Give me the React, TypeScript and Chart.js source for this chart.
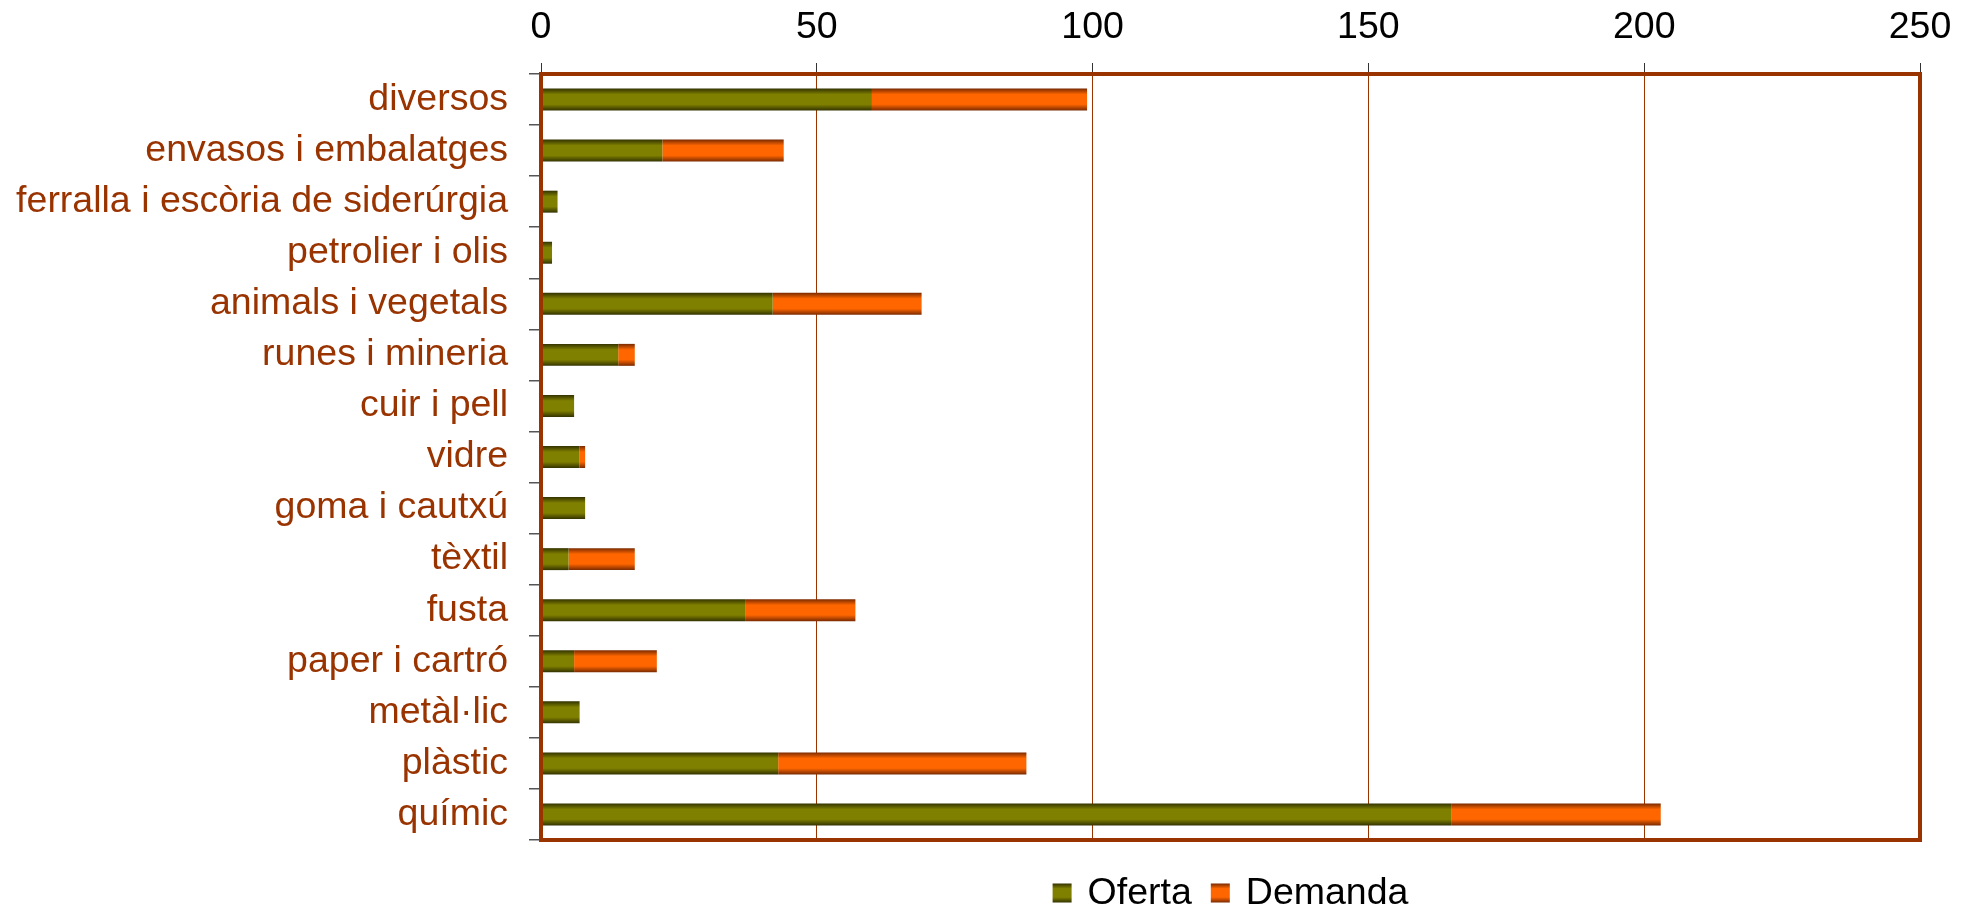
import React, { useEffect, useRef } from 'react';
import { Chart, registerables } from 'chart.js';

Chart.register(...registerables);

const categories = [
  'diversos',
  'envasos i embalatges',
  'ferralla i escòria de siderúrgia',
  'petrolier i olis',
  'animals i vegetals',
  'runes i mineria',
  'cuir i pell',
  'vidre',
  'goma i cautxú',
  'tèxtil',
  'fusta',
  'paper i cartró',
  'metàl·lic',
  'plàstic',
  'químic',
];
const oferta = [60, 22, 3, 2, 42, 14, 6, 7, 8, 5, 37, 6, 7, 43, 165];
const demanda = [39, 22, 0, 0, 27, 3, 0, 1, 0, 12, 20, 15, 0, 45, 38];
const seriesNames = ['Oferta', 'Demanda'];
const xMin = 0;
const xMax = 250;
const xStep = 50;

const FONT = 'Liberation Sans, Arial, sans-serif';
const FONT_SIZE = 37.5;
const BROWN = '#993300';
const BAR_PCT = 0.43;

const GREEN_DARK = '#333300';
const GREEN_BRIGHT = '#808000';
const ORANGE_DARK = '#7a2a00';
const ORANGE_BRIGHT = '#ff6600';

function makeGradient(c: CanvasRenderingContext2D, y0: number, y1: number, dark: string, bright: string) {
  const g = c.createLinearGradient(0, y0, 0, y1);
  g.addColorStop(0, dark);
  g.addColorStop(0.27, bright);
  g.addColorStop(0.72, bright);
  g.addColorStop(1, dark);
  return g;
}

function barFill(dark: string, bright: string) {
  return (ctx: any) => {
    const chart = ctx.chart;
    const y = chart.scales && chart.scales.y;
    if (!y || ctx.type !== 'data' || ctx.dataIndex == null) return bright;
    const cy = y.getPixelForValue(ctx.dataIndex);
    const h = (y.height / categories.length) * BAR_PCT;
    if (!isFinite(cy) || !isFinite(h) || h <= 0) return bright;
    return makeGradient(chart.ctx, cy - h / 2, cy + h / 2, dark, bright);
  };
}

const borderPlugin = {
  id: 'plotBorder',
  afterDraw(chart: any) {
    const { ctx, chartArea } = chart;
    ctx.save();
    ctx.strokeStyle = BROWN;
    ctx.lineWidth = 4;
    ctx.strokeRect(chartArea.left, chartArea.top, chartArea.right - chartArea.left, chartArea.bottom - chartArea.top);
    ctx.restore();
  },
};

const legendPlugin = {
  id: 'customLegend',
  afterDraw(chart: any) {
    const { ctx, chartArea } = chart;
    const box = 19;
    const gapText = 16;
    const gapItem = 19;
    const colors = [
      [GREEN_DARK, GREEN_BRIGHT],
      [ORANGE_DARK, ORANGE_BRIGHT],
    ];
    ctx.save();
    ctx.font = `${FONT_SIZE}px ${FONT}`;
    const widths = seriesNames.map((n) => ctx.measureText(n).width);
    let total = 0;
    widths.forEach((w, i) => {
      total += box + gapText + w + (i < widths.length - 1 ? gapItem : 0);
    });
    const cx = (chartArea.left + chartArea.right) / 2;
    const cy = 893;
    let x = cx - total / 2;
    seriesNames.forEach((name, i) => {
      ctx.fillStyle = makeGradient(ctx, cy - box / 2, cy + box / 2, colors[i][0], colors[i][1]);
      ctx.fillRect(x, cy - box / 2, box, box);
      x += box + gapText;
      ctx.fillStyle = '#000';
      ctx.textBaseline = 'middle';
      ctx.textAlign = 'left';
      ctx.fillText(name, x, cy + 1);
      x += widths[i] + gapItem;
    });
    ctx.restore();
  },
};

export default function App() {
  const ref = useRef<HTMLCanvasElement | null>(null);

  useEffect(() => {
    document.body.style.margin = '0';
    const canvas = ref.current;
    if (!canvas) return;
    const chart = new Chart(canvas, {
      type: 'bar',
      data: {
        labels: categories,
        datasets: [
          {
            label: seriesNames[0],
            data: oferta,
            backgroundColor: barFill(GREEN_DARK, GREEN_BRIGHT),
            borderWidth: 0,
            categoryPercentage: 1,
            barPercentage: BAR_PCT,
          },
          {
            label: seriesNames[1],
            data: demanda,
            backgroundColor: barFill(ORANGE_DARK, ORANGE_BRIGHT),
            borderWidth: 0,
            categoryPercentage: 1,
            barPercentage: BAR_PCT,
          },
        ],
      },
      options: {
        indexAxis: 'y',
        responsive: false,
        animation: false,
        devicePixelRatio: 1,
        layout: { padding: { left: 0, right: 50, top: 0, bottom: 68 } },
        plugins: {
          legend: { display: false },
          tooltip: { enabled: false },
        },
        scales: {
          x: {
            type: 'linear',
            position: 'top',
            stacked: true,
            min: xMin,
            max: xMax,
            ticks: {
              stepSize: xStep,
              color: '#000',
              font: { family: FONT, size: FONT_SIZE },
              padding: 13,
              maxRotation: 0,
            },
            grid: {
              color: BROWN,
              lineWidth: 1,
              tickLength: 11,
              tickColor: '#333',
            },
            border: { display: false },
            afterFit: (s: any) => {
              s.height = 74;
            },
          },
          y: {
            type: 'category',
            stacked: true,
            ticks: {
              color: BROWN,
              font: { family: FONT, size: FONT_SIZE },
              padding: 21,
              autoSkip: false,
            },
            grid: {
              drawOnChartArea: false,
              tickLength: 12,
              lineWidth: 1.5,
              tickColor: '#555',
              offset: true,
            },
            border: { display: false },
            afterFit: (s: any) => {
              s.width = 541;
            },
          },
        },
      },
      plugins: [borderPlugin, legendPlugin],
    } as any);
    return () => chart.destroy();
  }, []);

  return (
    <div style={{ width: 1970, height: 908 }}>
      <canvas ref={ref} width={1970} height={908} style={{ display: 'block' }} />
    </div>
  );
}
